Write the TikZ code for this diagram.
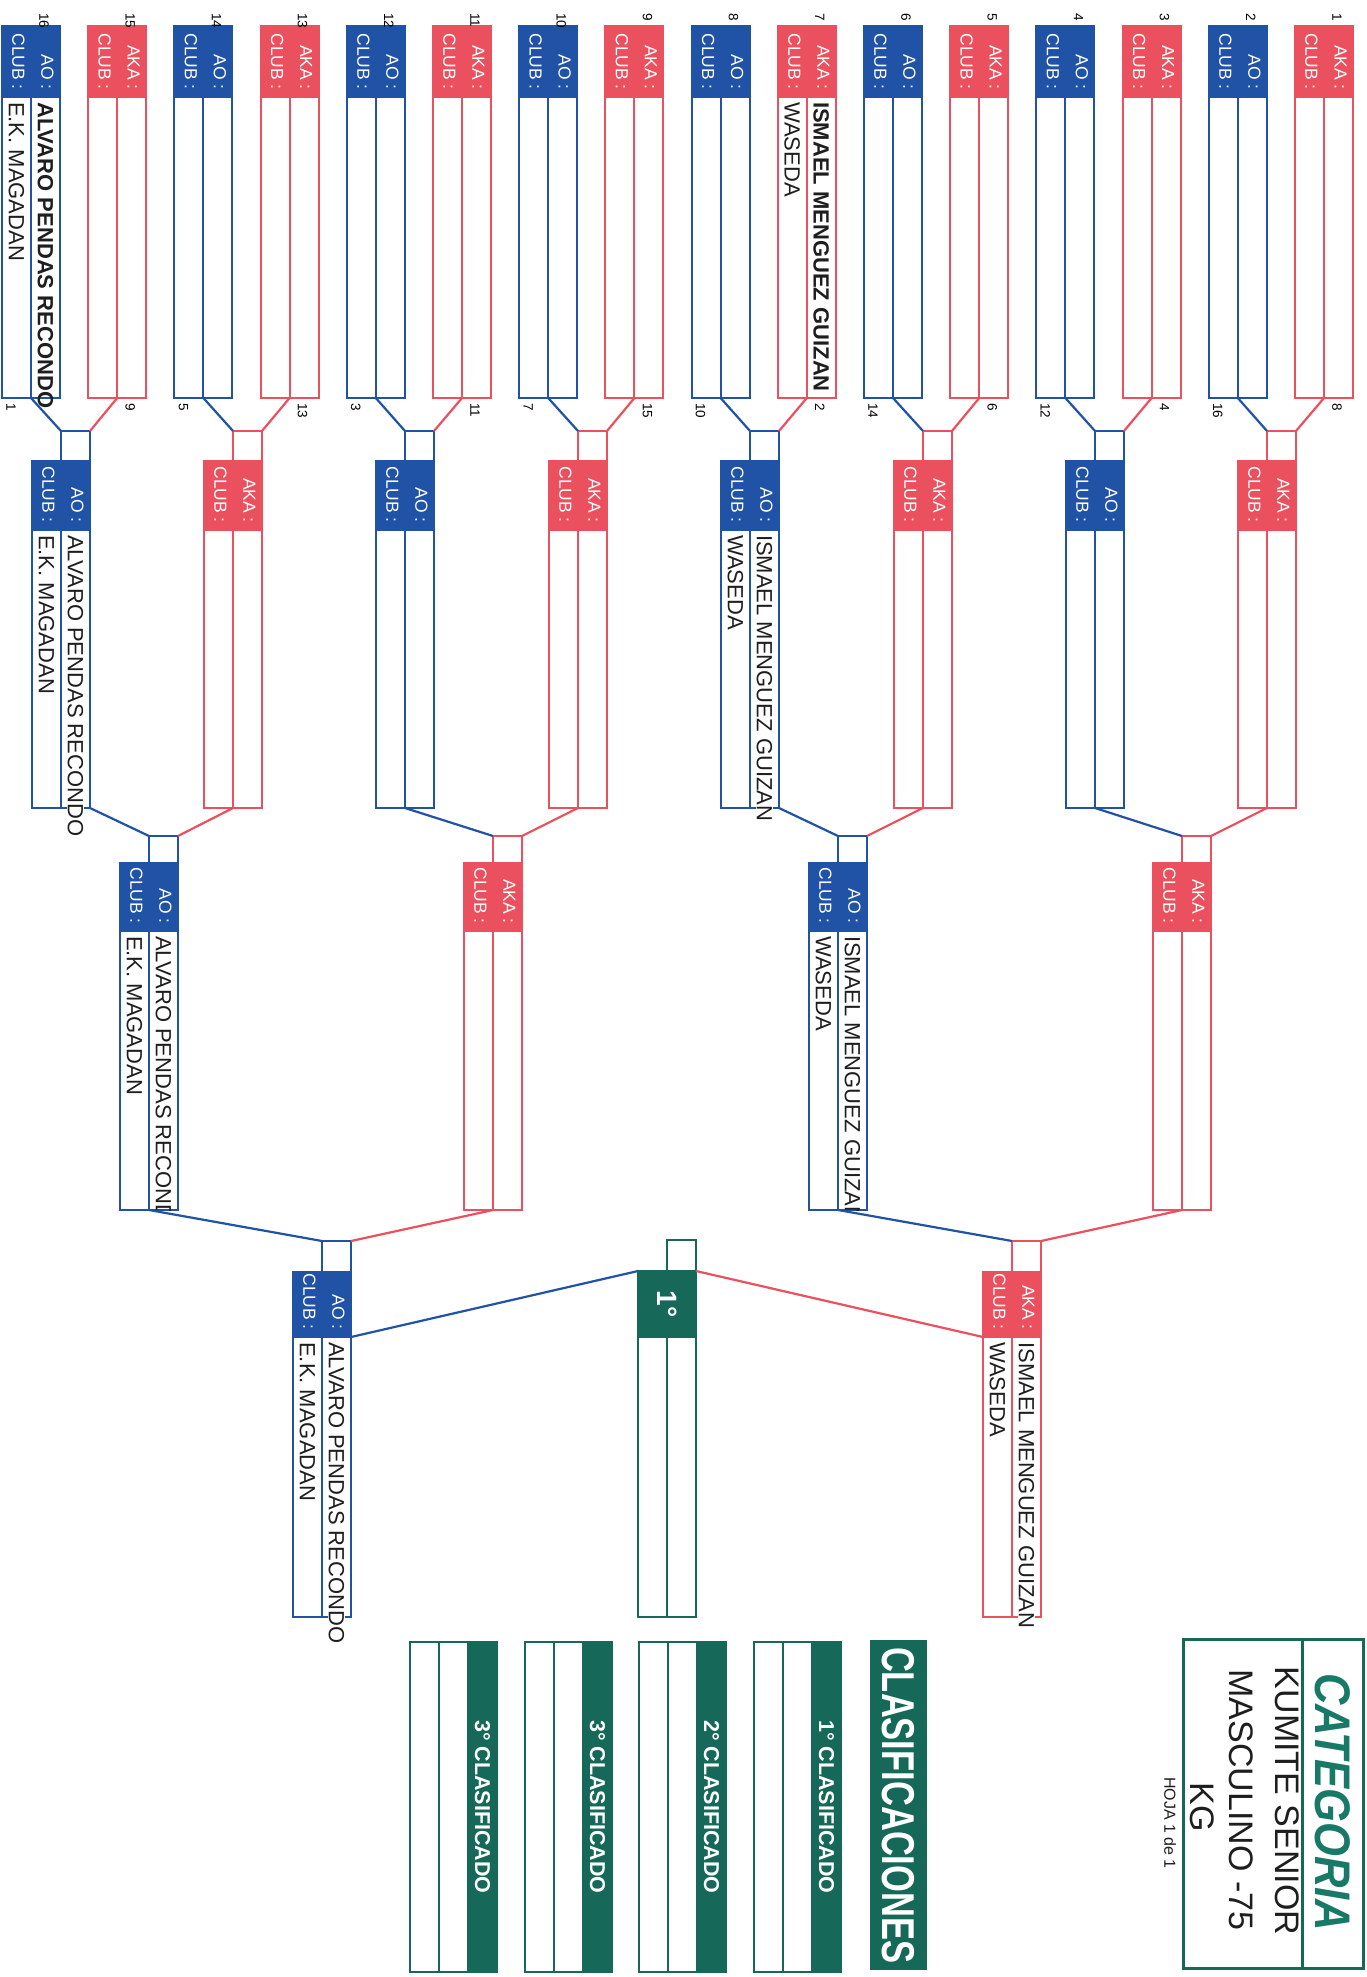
\documentclass[tikz,border=0pt]{standalone}
\usepackage{fontspec}
\setmainfont{Liberation Sans}
\newfontfamily\narrowfont[FakeStretch=0.75]{Liberation Sans}
\newfontfamily\catfont[FakeStretch=0.87]{Liberation Sans}

\definecolor{akared}{RGB}{234,80,94}
\definecolor{aoblue}{RGB}{32,82,166}
\definecolor{wkfgreen}{RGB}{22,104,88}
\definecolor{cattitle}{RGB}{24,122,102}
\definecolor{inkgrey}{RGB}{30,30,30}

\tikzset{
  hdrbox/.style={draw=#1, fill=#1, line width=2pt, minimum width=58pt, inner sep=0pt, outer sep=0pt, anchor=north west},
  cellbox/.style={draw=#1, line width=2pt, minimum width=29pt, inner sep=0pt, outer sep=0pt},
  stripbox/.style={draw=wkfgreen, fill=wkfgreen, line width=2pt, minimum width=29pt, minimum height=330pt, inner sep=0pt, outer sep=0pt, anchor=north west},
  hdrlbl/.style={text=white, font=\fontsize{17.5}{18}\selectfont, rotate=-90, inner sep=0pt, anchor=east},
  seednum/.style={text=black, font=\fontsize{13.5}{14}\selectfont, rotate=-90, inner sep=0pt, anchor=west},
  fname/.style={text=inkgrey, font=\fontsize{22}{24}\selectfont, rotate=-90, inner sep=0pt, anchor=west},
  fnamebold/.style={fname, font=\fontsize{22}{24}\selectfont\bfseries},
  fmask/.style={fname, fill=white, inner sep=1pt},
  striplbl/.style={text=white, font=\fontsize{21.5}{23}\selectfont\bfseries, rotate=-90, inner sep=0pt},
  akaline/.style={akared, line width=2.2pt},
  aoline/.style={aoblue, line width=2.2pt},
}

% header with two cells below: prefix, left, top, header height, cell height, colour, corner
\newcommand{\fighter}[7]{%
  \node[hdrbox=#6, minimum height=#4pt] (#1h) at (#2,#3) {};
  \node[cellbox=#6, minimum height=#5pt, anchor=north west] (#1c) at (#1h.south west) {};
  \node[cellbox=#6, minimum height=#5pt, anchor=north east] (#1n) at (#1h.south east) {};
  \node[hdrlbl] (#1lc) at ([xshift=16.5pt,yshift=7pt]#1h.south west) {CLUB :};
  \node[hdrlbl] (#1ln) at ([xshift=-12.5pt,yshift=7pt]#1h.south east) {#7 :};
}
% small box on top of the name column
\newcommand{\topbox}[3]{%
  \node[cellbox=#2, minimum height=#3pt, anchor=south east] (#1s) at (#1h.north east) {};
}

\begin{document}
\begin{tikzpicture}[x=1pt,y=-1pt]
\fill[white] (0,0) rectangle (1367,1977);
\useasboundingbox (0,0) rectangle (1367,1977);

% first round
\fighter{e1}{1295}{26}{71}{301}{akared}{AKA}
\fighter{e2}{1208.8}{26}{71}{301}{aoblue}{AO}
\fighter{e3}{1122.6}{26}{71}{301}{akared}{AKA}
\fighter{e4}{1036.4}{26}{71}{301}{aoblue}{AO}
\fighter{e5}{950.2}{26}{71}{301}{akared}{AKA}
\fighter{e6}{864}{26}{71}{301}{aoblue}{AO}
\fighter{e7}{777.8}{26}{71}{301}{akared}{AKA}
\fighter{e8}{691.6}{26}{71}{301}{aoblue}{AO}
\fighter{e9}{605.4}{26}{71}{301}{akared}{AKA}
\fighter{e10}{519.2}{26}{71}{301}{aoblue}{AO}
\fighter{e11}{433}{26}{71}{301}{akared}{AKA}
\fighter{e12}{346.8}{26}{71}{301}{aoblue}{AO}
\fighter{e13}{260.6}{26}{71}{301}{akared}{AKA}
\fighter{e14}{174.4}{26}{71}{301}{aoblue}{AO}
\fighter{e15}{88.2}{26}{71}{301}{akared}{AKA}
\fighter{e16}{2}{26}{71}{301}{aoblue}{AO}

% seed numbers
\node[seednum] (t1) at ([xshift=42pt,yshift=13pt]e1h.north west) {1};
\node[seednum] (t2) at ([xshift=42pt,yshift=13pt]e2h.north west) {2};
\node[seednum] (t3) at ([xshift=42pt,yshift=13pt]e3h.north west) {3};
\node[seednum] (t4) at ([xshift=42pt,yshift=13pt]e4h.north west) {4};
\node[seednum] (t5) at ([xshift=42pt,yshift=13pt]e5h.north west) {5};
\node[seednum] (t6) at ([xshift=42pt,yshift=13pt]e6h.north west) {6};
\node[seednum] (t7) at ([xshift=42pt,yshift=13pt]e7h.north west) {7};
\node[seednum] (t8) at ([xshift=42pt,yshift=13pt]e8h.north west) {8};
\node[seednum] (t9) at ([xshift=42pt,yshift=13pt]e9h.north west) {9};
\node[seednum] (t10) at ([xshift=42pt,yshift=13pt]e10h.north west) {10};
\node[seednum] (t11) at ([xshift=42pt,yshift=13pt]e11h.north west) {11};
\node[seednum] (t12) at ([xshift=42pt,yshift=13pt]e12h.north west) {12};
\node[seednum] (t13) at ([xshift=42pt,yshift=13pt]e13h.north west) {13};
\node[seednum] (t14) at ([xshift=42pt,yshift=13pt]e14h.north west) {14};
\node[seednum] (t15) at ([xshift=42pt,yshift=13pt]e15h.north west) {15};
\node[seednum] (t16) at ([xshift=42pt,yshift=13pt]e16h.north west) {16};

\node[seednum] (b1) at ([xshift=42pt,yshift=-5pt]e1c.south west) {8};
\node[seednum] (b2) at ([xshift=9pt,yshift=-5pt]e2c.south west) {16};
\node[seednum] (b3) at ([xshift=42pt,yshift=-5pt]e3c.south west) {4};
\node[seednum] (b4) at ([xshift=9pt,yshift=-5pt]e4c.south west) {12};
\node[seednum] (b5) at ([xshift=42pt,yshift=-5pt]e5c.south west) {6};
\node[seednum] (b6) at ([xshift=9pt,yshift=-5pt]e6c.south west) {14};
\node[seednum] (b7) at ([xshift=42pt,yshift=-5pt]e7c.south west) {2};
\node[seednum] (b8) at ([xshift=9pt,yshift=-5pt]e8c.south west) {10};
\node[seednum] (b9) at ([xshift=42pt,yshift=-5pt]e9c.south west) {15};
\node[seednum] (b10) at ([xshift=9pt,yshift=-5pt]e10c.south west) {7};
\node[seednum] (b11) at ([xshift=42pt,yshift=-5pt]e11c.south west) {11};
\node[seednum] (b12) at ([xshift=9pt,yshift=-5pt]e12c.south west) {3};
\node[seednum] (b13) at ([xshift=42pt,yshift=-5pt]e13c.south west) {13};
\node[seednum] (b14) at ([xshift=9pt,yshift=-5pt]e14c.south west) {5};
\node[seednum] (b15) at ([xshift=42pt,yshift=-5pt]e15c.south west) {9};
\node[seednum] (b16) at ([xshift=9pt,yshift=-5pt]e16c.south west) {1};

\node[fnamebold] (e7nt) at ([yshift=-5pt]e7n.north) {ISMAEL MENGUEZ GUIZAN};
\node[fname] (e7ct) at ([yshift=-5pt]e7c.north) {WASEDA};
\node[fnamebold] (e16nt) at ([yshift=-5pt]e16n.north) {ALVARO PENDAS RECONDO};
\node[fname] (e16ct) at ([yshift=-5pt]e16c.north) {E.K. MAGADAN};

% second round
\fighter{qf1}{1238}{461}{69}{278}{akared}{AKA} \topbox{qf1}{akared}{30}
\fighter{qf2}{1066}{461}{69}{278}{aoblue}{AO} \topbox{qf2}{aoblue}{30}
\fighter{qf3}{894}{461}{69}{278}{akared}{AKA} \topbox{qf3}{akared}{30}
\fighter{qf4}{721}{461}{69}{278}{aoblue}{AO} \topbox{qf4}{aoblue}{30}
\fighter{qf5}{549}{461}{69}{278}{akared}{AKA} \topbox{qf5}{akared}{30}
\fighter{qf6}{376}{461}{69}{278}{aoblue}{AO} \topbox{qf6}{aoblue}{30}
\fighter{qf7}{204}{461}{69}{278}{akared}{AKA} \topbox{qf7}{akared}{30}
\fighter{qf8}{32}{461}{69}{278}{aoblue}{AO} \topbox{qf8}{aoblue}{30}

\node[fmask] (qf4nt) at ([yshift=-4pt]qf4n.north) {ISMAEL MENGUEZ GUIZAN};
\node[fname] (qf4ct) at ([yshift=-5pt]qf4c.north) {WASEDA};
\node[fmask] (qf8nt) at ([yshift=-4pt]qf8n.north) {ALVARO PENDAS RECONDO};
\node[fname] (qf8ct) at ([yshift=-5pt]qf8c.north) {E.K. MAGADAN};

% semi finals
\fighter{sf1}{1153}{863}{68}{279}{akared}{AKA} \topbox{sf1}{akared}{27}
\fighter{sf2}{809}{863}{68}{279}{aoblue}{AO} \topbox{sf2}{aoblue}{27}
\fighter{sf3}{464}{863}{68}{279}{akared}{AKA} \topbox{sf3}{akared}{27}
\fighter{sf4}{120}{863}{68}{279}{aoblue}{AO} \topbox{sf4}{aoblue}{27}

\begin{scope}
\clip (sf2n.north west) rectangle (sf2n.south east);
\node[fname] (sf2nt) at ([yshift=-5pt]sf2n.north) {ISMAEL MENGUEZ GUIZAN};
\end{scope}
\node[fname] (sf2ct) at ([yshift=-5pt]sf2c.north) {WASEDA};
\begin{scope}
\clip (sf4n.north west) rectangle (sf4n.south east);
\node[fname] (sf4nt) at ([yshift=-5pt]sf4n.north) {ALVARO PENDAS RECONDO};
\end{scope}
\node[fname] (sf4ct) at ([yshift=-5pt]sf4c.north) {E.K. MAGADAN};

% finalists
\fighter{fn1}{983}{1272}{65}{280}{akared}{AKA} \topbox{fn1}{akared}{31}
\fighter{fn2}{293}{1272}{65}{280}{aoblue}{AO} \topbox{fn2}{aoblue}{31}

\node[fmask] (fn1nt) at ([yshift=-4pt]fn1n.north) {ISMAEL MENGUEZ GUIZAN};
\node[fname] (fn1ct) at ([yshift=-5pt]fn1c.north) {WASEDA};
\node[fmask] (fn2nt) at ([yshift=-4pt]fn2n.north) {ALVARO PENDAS RECONDO};
\node[fname] (fn2ct) at ([yshift=-5pt]fn2c.north) {E.K. MAGADAN};

% winner
\node[hdrbox=wkfgreen, minimum height=66pt] (winh) at (638,1271) {};
\node[cellbox=wkfgreen, minimum height=280pt, anchor=north west] (winc) at (winh.south west) {};
\node[cellbox=wkfgreen, minimum height=280pt, anchor=north east] (winn) at (winh.south east) {};
\node[cellbox=wkfgreen, minimum height=31pt, anchor=south east] (wins) at (winh.north east) {};
\node[text=white, font=\fontsize{28}{30}\selectfont\bfseries, rotate=-90, inner sep=0pt] (wint) at (winh.center) {1°};

% connectors
\draw[akaline] (e1n.south west) -- (qf1s.north east);
\draw[aoline] (e2n.south west) -- (qf1s.north west);
\draw[akaline] (e3n.south west) -- (qf2s.north east);
\draw[aoline] (e4n.south west) -- (qf2s.north west);
\draw[akaline] (e5n.south west) -- (qf3s.north east);
\draw[aoline] (e6n.south west) -- (qf3s.north west);
\draw[akaline] (e7n.south west) -- (qf4s.north east);
\draw[aoline] (e8n.south west) -- (qf4s.north west);
\draw[akaline] (e9n.south west) -- (qf5s.north east);
\draw[aoline] (e10n.south west) -- (qf5s.north west);
\draw[akaline] (e11n.south west) -- (qf6s.north east);
\draw[aoline] (e12n.south west) -- (qf6s.north west);
\draw[akaline] (e13n.south west) -- (qf7s.north east);
\draw[aoline] (e14n.south west) -- (qf7s.north west);
\draw[akaline] (e15n.south west) -- (qf8s.north east);
\draw[aoline] (e16n.south west) -- (qf8s.north west);

\draw[akaline] (qf1n.south west) -- (sf1s.north east);
\draw[aoline] (qf2n.south west) -- (sf1s.north west);
\draw[akaline] (qf3n.south west) -- (sf2s.north east);
\draw[aoline] (qf4n.south east) -- (sf2s.north west);
\draw[akaline] (qf5n.south west) -- (sf3s.north east);
\draw[aoline] (qf6n.south west) -- (sf3s.north west);
\draw[akaline] (qf7n.south west) -- (sf4s.north east);
\draw[aoline] (qf8n.south east) -- (sf4s.north west);

\draw[akaline] (sf1n.south west) -- (fn1s.north east);
\draw[aoline] (sf2n.south west) -- (fn1s.north west);
\draw[akaline] (sf3n.south west) -- (fn2s.north east);
\draw[aoline] (sf4n.south west) -- (fn2s.north west);

\draw[akaline] (fn1h.south west) -- (winh.north east);
\draw[aoline] (fn2h.south east) -- (winh.north west);

% classification
\node[cellbox=wkfgreen, minimum height=330pt, anchor=north west] (p1c) at (754,1642) {};
\node[cellbox=wkfgreen, minimum height=330pt, anchor=north west] (p1n) at (p1c.north east) {};
\node[stripbox] (p1s) at (p1n.north east) {};
\node[striplbl] (p1t) at (p1s.center) {1° CLASIFICADO};
\node[cellbox=wkfgreen, minimum height=330pt, anchor=north west] (p2c) at (639,1642) {};
\node[cellbox=wkfgreen, minimum height=330pt, anchor=north west] (p2n) at (p2c.north east) {};
\node[stripbox] (p2s) at (p2n.north east) {};
\node[striplbl] (p2t) at (p2s.center) {2° CLASIFICADO};
\node[cellbox=wkfgreen, minimum height=330pt, anchor=north west] (p3c) at (525,1642) {};
\node[cellbox=wkfgreen, minimum height=330pt, anchor=north west] (p3n) at (p3c.north east) {};
\node[stripbox] (p3s) at (p3n.north east) {};
\node[striplbl] (p3t) at (p3s.center) {3° CLASIFICADO};
\node[cellbox=wkfgreen, minimum height=330pt, anchor=north west] (p4c) at (410,1642) {};
\node[cellbox=wkfgreen, minimum height=330pt, anchor=north west] (p4n) at (p4c.north east) {};
\node[stripbox] (p4s) at (p4n.north east) {};
\node[striplbl] (p4t) at (p4s.center) {3° CLASIFICADO};

\node[fill=wkfgreen, minimum width=57pt, minimum height=330pt, inner sep=0pt, anchor=north west] (clsban) at (870,1640) {};
\node[text=white, font=\narrowfont\fontsize{46}{48}\selectfont\bfseries, rotate=-90, inner sep=0pt] (clstxt) at (clsban.center) {CLASIFICACIONES};

% category
\node[draw=wkfgreen, line width=3pt, minimum width=180pt, minimum height=329pt, inner sep=0pt, outer sep=0pt, anchor=north west] (catbox) at (1183,1639) {};
\draw[wkfgreen, line width=3pt] ([xshift=-61pt]catbox.north east) -- ([xshift=-61pt]catbox.south east);
\node[text=cattitle, font=\catfont\fontsize{50}{52}\selectfont\bfseries\itshape, rotate=-90, inner sep=0pt] (cathead) at (1332.5,1802) {CATEGORIA};
\node[text=inkgrey, font=\fontsize{34}{36}\selectfont, rotate=-90, inner sep=0pt] (catl1) at (1287,1801) {KUMITE SENIOR};
\node[text=inkgrey, font=\fontsize{34}{36}\selectfont, rotate=-90, inner sep=0pt] (catl2) at (1241,1800) {MASCULINO -75};
\node[text=inkgrey, font=\fontsize{34}{36}\selectfont, rotate=-90, inner sep=0pt] (catl3) at (1202,1807) {KG};
\node[text=inkgrey, font=\fontsize{16}{17}\selectfont, rotate=-90, inner sep=0pt] (sheet) at (1170,1823) {HOJA 1 de 1};
\end{tikzpicture}
\end{document}
